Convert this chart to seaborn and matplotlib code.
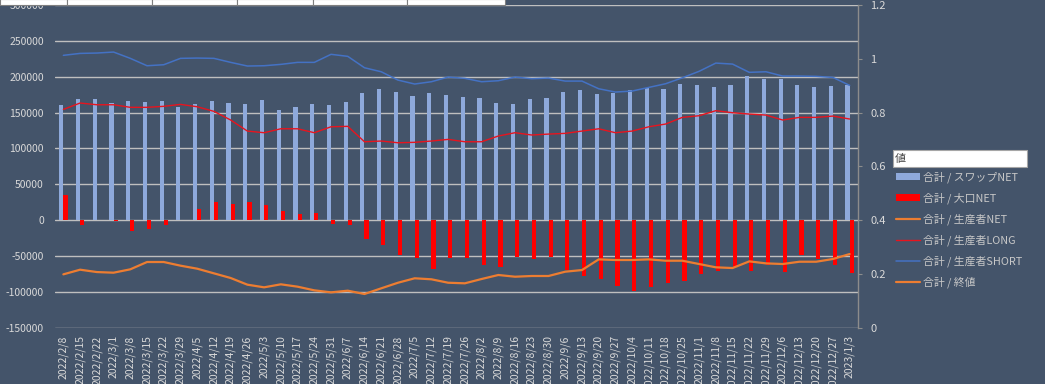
import numpy as np
import pandas as pd
import matplotlib
matplotlib.use("Agg")
import matplotlib.pyplot as plt
import seaborn as sns
from matplotlib.patches import Patch, Rectangle
from matplotlib.lines import Line2D

# ---------------- data ----------------
dates = ["2022/2/8", "2022/2/15", "2022/2/22", "2022/3/1", "2022/3/8", "2022/3/15",
         "2022/3/22", "2022/3/29", "2022/4/5", "2022/4/12", "2022/4/19", "2022/4/26",
         "2022/5/3", "2022/5/10", "2022/5/17", "2022/5/24", "2022/5/31", "2022/6/7",
         "2022/6/14", "2022/6/21", "2022/6/28", "2022/7/5", "2022/7/12", "2022/7/19",
         "2022/7/26", "2022/8/2", "2022/8/9", "2022/8/16", "2022/8/23", "2022/8/30",
         "2022/9/6", "2022/9/13", "2022/9/20", "2022/9/27", "2022/10/4", "2022/10/11",
         "2022/10/18", "2022/10/25", "2022/11/1", "2022/11/8", "2022/11/15", "2022/11/22",
         "2022/11/29", "2022/12/6", "2022/12/13", "2022/12/20", "2022/12/27", "2023/1/3"]

swap_net = [160900, 168800, 168800, 163700, 166500, 164200, 166100, 157300, 161500, 166000,
            162800, 161900, 167000, 153900, 157700, 162300, 160500, 164700, 177600, 182400,
            178200, 173000, 177200, 174400, 171600, 170200, 163700, 161900, 169300, 170700,
            178200, 181000, 175800, 177200, 181000, 184600, 183200, 189300, 188400, 185600,
            187900, 200500, 196700, 197200, 187900, 185600, 187000, 188800]

large_net = [35000, -7300, -500, -1700, -15200, -12900, -6400, 500, 16000, 25700,
             22400, 25700, 20600, 12200, 9000, 9400, -5400, -6400, -25900, -35200,
             -49100, -53000, -68500, -52400, -53300, -62600, -65000, -51000, -54700, -51000,
             -69600, -77900, -82600, -91400, -98400, -93800, -87300, -84900, -75600, -70500,
             -65000, -70500, -62600, -71900, -48700, -54700, -62600, -74200]

producer_long = [154400, 163300, 160900, 160900, 157300, 157300, 158700, 161400, 158100, 151700,
                 139600, 124200, 121900, 127400, 127400, 121900, 130200, 130800, 109300, 110300,
                 107900, 108500, 110300, 112600, 109300, 109300, 117300, 121900, 118700, 120000,
                 121000, 124200, 127400, 121900, 124200, 130200, 134000, 143300, 145600, 152600,
                 149800, 147900, 146500, 139600, 143300, 143300, 145100, 141000]

producer_short = [229800, 232500, 233000, 234400, 225600, 215300, 216700, 225600, 226000, 225600,
                  220000, 214900, 215300, 217200, 220000, 220000, 231200, 228400, 212500, 206900,
                  195300, 189800, 193000, 199500, 197700, 193000, 194400, 199500, 197200, 198100,
                  193900, 193900, 183200, 178600, 180000, 185100, 190200, 198500, 207500, 219000,
                  217600, 206100, 206900, 200900, 200900, 200500, 199000, 187900]

producer_net = [-75600, -69100, -72400, -73300, -68600, -58400, -58400, -63500, -67700, -74200,
                -80700, -90000, -93700, -89500, -92800, -97900, -100700, -98400, -103000, -95100,
                -87300, -81100, -82500, -87300, -88100, -82100, -76500, -78900, -77900, -77900,
                -71900, -69600, -54700, -55600, -55600, -54700, -56600, -56600, -61200, -65800,
                -66800, -57500, -60300, -61200, -58000, -58000, -54200, -47300]

series_labels = ["合計 / スワップNET", "合計 / 大口NET", "合計 / 生産者NET",
                 "合計 / 生産者LONG", "合計 / 生産者SHORT", "合計 / 終値"]
left_ticks = [-150000, -100000, -50000, 0, 50000, 100000, 150000, 200000, 250000, 300000]
right_ticks = [0, 0.2, 0.4, 0.6, 0.8, 1.0, 1.2]
right_tick_labels = ["0", "0.2", "0.4", "0.6", "0.8", "1", "1.2"]

# ---------------- style ----------------
BG = "#44546A"
GRID = "#BFBFBF"
TXT = "#D9D9D9"
C_SWAP = "#8EA9DB"
C_LARGE = "#FF0000"
C_NET = "#ED7D31"
C_LONG = "#E8141E"
C_SHORT = "#4472C4"

sns.set_style("white")
plt.rcParams["font.family"] = ["Noto Sans CJK JP", "DejaVu Sans"]

W, H = 1045, 384
fig = plt.figure(figsize=(W / 100, H / 100), dpi=100, facecolor=BG)
ax = fig.add_axes([55 / W, 1 - 327.7 / H, (858 - 55) / W, (327.7 - 5) / H])
ax.set_facecolor(BG)

n = len(dates)
bars = pd.DataFrame({
    "date": dates * 2,
    "value": swap_net + large_net,
    "series": [series_labels[0]] * n + [series_labels[1]] * n,
})
sns.barplot(data=bars, x="date", y="value", hue="series", order=dates,
            hue_order=series_labels[:2], palette=[C_SWAP, C_LARGE],
            width=0.5, gap=0, saturation=1, linewidth=0, legend=False, ax=ax, zorder=2)

xs = np.arange(n)
sns.lineplot(x=xs, y=producer_net, color=C_NET, linewidth=1.6, ax=ax, zorder=3)
sns.lineplot(x=xs, y=producer_long, color=C_LONG, linewidth=1.0, ax=ax, zorder=3)
sns.lineplot(x=xs, y=producer_short, color=C_SHORT, linewidth=1.1, ax=ax, zorder=3)

ax.set_xlim(-0.5, n - 0.5)
ax.set_ylim(-150000, 300000)
ax.set_yticks(left_ticks)
ax.set_yticklabels([str(t) for t in left_ticks])
ax.yaxis.grid(True, color=GRID, linewidth=1.0, zorder=0)
ax.set_axisbelow(True)
ax.set_xlabel("")
ax.set_ylabel("")
ax.set_xticks(xs)
ax.set_xticklabels(dates, rotation=90, fontsize=7.5, color=TXT)
ax.tick_params(axis="x", length=0, pad=5.5)
ax.tick_params(axis="y", length=0, pad=8, labelsize=7.5, labelcolor=TXT)
for s in ax.spines.values():
    s.set_visible(False)

ax2 = ax.twinx()
ax2.set_ylim(0, 1.2)
ax2.set_yticks(right_ticks)
ax2.set_yticklabels(right_tick_labels)
ax2.tick_params(axis="y", length=3, width=0.8, color="#8C8C8C", pad=6,
                labelsize=8, labelcolor=TXT)
for k, s in ax2.spines.items():
    s.set_visible(k == "right")
ax2.spines["right"].set_color("#8C8C8C")
ax2.spines["right"].set_linewidth(1.0)
ax2.grid(False)

# legend
handles = [
    Patch(facecolor=C_SWAP, edgecolor="none"),
    Patch(facecolor=C_LARGE, edgecolor="none"),
    Line2D([], [], color=C_NET, linewidth=1.6),
    Line2D([], [], color=C_LONG, linewidth=1.0),
    Line2D([], [], color=C_SHORT, linewidth=1.1),
    Line2D([], [], color=C_NET, linewidth=1.6),
]
leg = fig.legend(handles, series_labels, loc="upper left",
                 bbox_to_anchor=(893 / W, 1 - 168 / H), frameon=False,
                 fontsize=7.8, labelcolor="#C8C8C8", handlelength=2.2,
                 handleheight=0.7, handletextpad=0.3, labelspacing=0.88,
                 borderaxespad=0, borderpad=0.3)

# legend title box "値"
fig.add_artist(Rectangle((893 / W, 1 - 167 / H), 134 / W, 17 / H, transform=fig.transFigure,
                         facecolor="white", edgecolor="#A6A6A6", linewidth=0.8, zorder=5))
fig.text(895 / W, 1 - 158.5 / H, "値", fontsize=8, color="#404040", va="center",
         ha="left", zorder=6)

# pivot field buttons at the top edge
for x0, x1 in [(0, 67), (67, 152), (152, 237), (237, 313), (313, 407), (407, 505)]:
    fig.add_artist(Rectangle((x0 / W, 1 - 4.5 / H), (x1 - x0) / W, 6 / H,
                             transform=fig.transFigure, facecolor="white",
                             edgecolor="#7F7F7F", linewidth=0.8, zorder=10))

fig.savefig("out.png", dpi=100, facecolor=BG)
